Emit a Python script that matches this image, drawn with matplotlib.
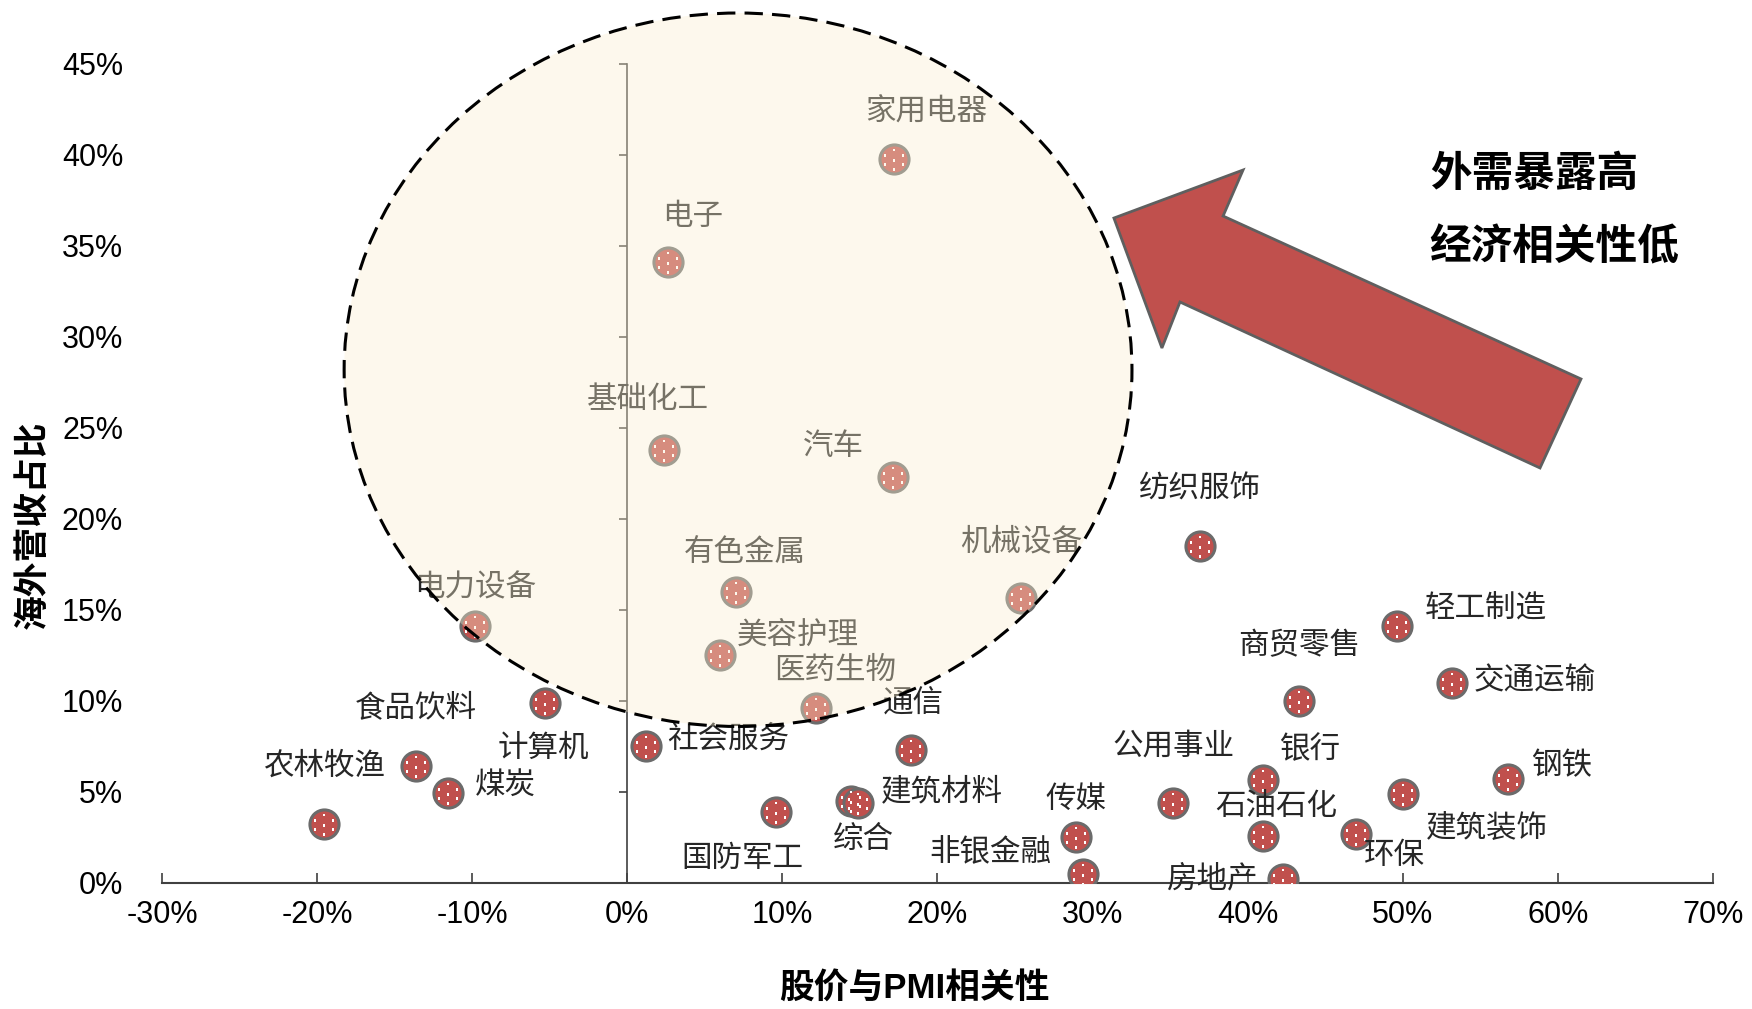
import numpy as np
import matplotlib
matplotlib.use("Agg")
import matplotlib.pyplot as plt
from matplotlib.patches import Ellipse, Polygon
from matplotlib.path import Path
from matplotlib.ticker import PercentFormatter

plt.rcParams['font.family'] = ['Liberation Sans', 'Noto Sans CJK SC', 'DejaVu Sans']
plt.rcParams['axes.unicode_minus'] = False

# ------------------------------------------------------------------
# data: correlation of stock price with PMI (x) vs overseas revenue share (y)
# ------------------------------------------------------------------
industries = ["家用电器", "电子", "基础化工", "汽车", "有色金属", "机械设备", "电力设备",
              "美容护理", "医药生物", "计算机", "社会服务", "通信", "农林牧渔", "煤炭",
              "食品饮料", "国防军工", "综合", "建筑材料", "纺织服饰", "轻工制造", "商贸零售",
              "交通运输", "公用事业", "银行", "石油石化", "钢铁", "建筑装饰", "环保",
              "传媒", "非银金融", "房地产"]
pmi_corr = [0.172, 0.026, 0.0235, 0.171, 0.070, 0.254, -0.098,
            0.0595, 0.1215, -0.053, 0.012, 0.183, -0.136, -0.1155,
            -0.1955, 0.096, 0.144, 0.149, 0.369, 0.496, 0.433,
            0.532, 0.352, 0.410, 0.410, 0.568, 0.500, 0.470,
            0.289, 0.294, 0.423]
overseas_share = [0.398, 0.341, 0.238, 0.223, 0.160, 0.1565, 0.141,
                  0.125, 0.096, 0.099, 0.075, 0.073, 0.0645, 0.0497,
                  0.0325, 0.039, 0.045, 0.044, 0.185, 0.141, 0.100,
                  0.110, 0.044, 0.0565, 0.026, 0.057, 0.049, 0.027,
                  0.025, 0.005, 0.002]

x_ticks = np.arange(-0.3, 0.71, 0.1)
y_ticks = np.arange(0, 0.451, 0.05)

# label offsets from each point, in pixels (dx, dy up)
label_offsets = [(32, 46), (25, 45), (-16, 50), (-59, 30), (9, 38), (0, 56), (0, 38),
                 (78, 20), (19, 37), (-2, -46), (82, 7), (2, 47), (-92, -1), (57, 7),
                 (92, 116), (-34, -47), (13, -39), (83, 11), (0, 57), (89, 17), (0, 55),
                 (82, 1), (0, 56), (47, 30), (13, 29), (53, 13), (84, -35), (38, -22),
                 (0, 38), (-93, 21), (-72, 0)]

RED = "#C0504D"
EDGE = "#6b6b6b"
TEXT = "#262626"

fig = plt.figure(figsize=(17.52, 10.09), dpi=100)
ax = fig.add_axes([0.0925, 0.1249, 0.8852, 0.8117])

ax.set_xlim(-0.3, 0.7)
ax.set_ylim(0, 0.45)

# markers: red circle with grey edge and small white dots pattern
s = 440
ax.scatter(pmi_corr, overseas_share, s=s, c=RED, edgecolors=EDGE, linewidths=2.2, zorder=3)

dot_centers = [(0, 0.62), (-0.6, 0.25), (0.6, 0.25), (0, -0.1),
               (-0.6, -0.37), (0.6, -0.37), (0, -0.72)]
h = 0.08
verts, codes = [], []
for cx, cy in dot_centers:
    verts += [(cx - h, cy - h), (cx + h, cy - h), (cx + h, cy + h), (cx - h, cy + h), (cx - h, cy - h)]
    codes += [Path.MOVETO, Path.LINETO, Path.LINETO, Path.LINETO, Path.CLOSEPOLY]
dot_path = Path(verts, codes)
ext = np.abs(np.array(verts)).max()
ax.scatter(pmi_corr, overseas_share, s=s * ext ** 2, marker=dot_path, c="white",
           linewidths=0, zorder=4)

for name, x, y, (dx, dy) in zip(industries, pmi_corr, overseas_share, label_offsets):
    ax.annotate(name, (x, y), xytext=(dx, dy), textcoords="offset pixels",
                ha="center", va="center", fontsize=22, color=TEXT, zorder=5,
                annotation_clip=False)

# highlighted region
ell_kw = dict(xy=(0.0714, 0.282), width=0.508, height=0.392)
ax.add_patch(Ellipse(**ell_kw, facecolor="#FBEFD0", alpha=0.38, edgecolor="none",
                     zorder=6, clip_on=False))
ax.add_patch(Ellipse(**ell_kw, facecolor="none", edgecolor="black", lw=2.2,
                     linestyle=(0, (6, 3)), zorder=7, clip_on=False))

# axes styling: y spine through x=0, labels kept at far left
for sp in ["top", "right"]:
    ax.spines[sp].set_visible(False)
ax.spines["left"].set_position(("data", 0))
ax.spines["left"].set_color("#404040")
ax.spines["bottom"].set_color("#404040")
ax.spines["left"].set_linewidth(1.2)
ax.spines["bottom"].set_linewidth(1.5)

ax.set_yticks(y_ticks)
ax.tick_params(axis="y", direction="out", length=6, width=1.2, color="#404040", labelleft=False)
ax.set_xticks(x_ticks)
ax.xaxis.set_major_formatter(PercentFormatter(1.0, decimals=0))
ax.tick_params(axis="x", direction="in", length=7, width=1.2, color="#404040",
               labelsize=22, pad=12, labelcolor="black")

sec = ax.secondary_yaxis(0.0)
for sp in sec.spines.values():
    sp.set_visible(False)
sec.set_yticks(y_ticks)
sec.yaxis.set_major_formatter(PercentFormatter(1.0, decimals=0))
sec.tick_params(length=0, pad=28, labelsize=22, labelcolor="black")

ax.set_xlabel("股价与PMI相关性", fontsize=25, fontweight="bold", va="center")
ax.xaxis.set_label_coords(0.485, -0.128)
ax.set_ylabel("海外营收占比", fontsize=25, fontweight="bold", va="center")
ax.yaxis.set_label_coords(-0.083, 0.437)

# big arrow pointing to the highlighted region
arrow_pts = [(0.6358, 0.7839), (0.7095, 0.8315), (0.6981, 0.7859), (0.9024, 0.6244),
             (0.8790, 0.5362), (0.6735, 0.7007), (0.6632, 0.6551)]
fig.patches.append(Polygon(arrow_pts, closed=True, transform=fig.transFigure,
                           facecolor=RED, edgecolor="#5f5f5f", lw=2, zorder=8))

fig.text(0.816, 0.8266, "外需暴露高", fontsize=30, fontweight="bold", va="center", ha="left")
fig.text(0.816, 0.7542, "经济相关性低", fontsize=30, fontweight="bold", va="center", ha="left")

fig.savefig("out.png", dpi=100)
